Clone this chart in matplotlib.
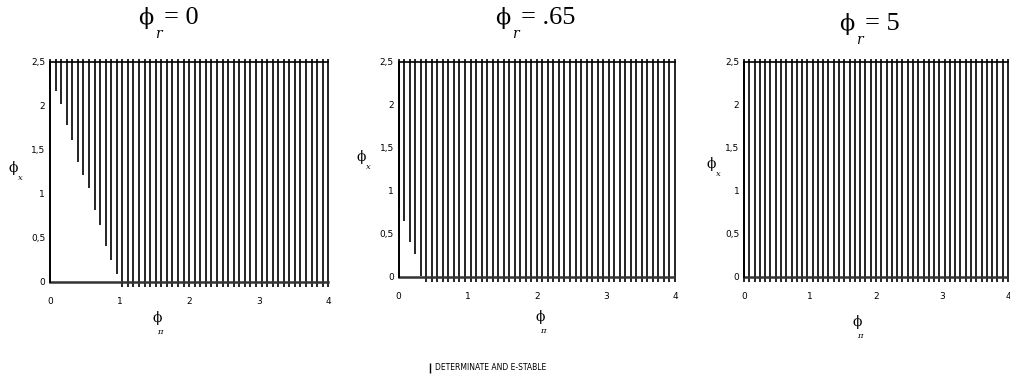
import matplotlib
matplotlib.use("Agg")
import matplotlib.pyplot as plt
from matplotlib.lines import Line2D

# grid of phi_pi values where the determinacy check was run
phi_pi = [0.00, 0.08, 0.16, 0.24, 0.32, 0.40, 0.48, 0.56, 0.64, 0.72,
          0.80, 0.88, 0.96, 1.04, 1.12, 1.20, 1.28, 1.36, 1.44, 1.52,
          1.60, 1.68, 1.76, 1.84, 1.92, 2.00, 2.08, 2.16, 2.24, 2.32,
          2.40, 2.48, 2.56, 2.64, 2.72, 2.80, 2.88, 2.96, 3.04, 3.12,
          3.20, 3.28, 3.36, 3.44, 3.52, 3.60, 3.68, 3.76, 3.84, 3.92, 4.00]

# lowest phi_x that is determinate and E-stable
low_r0 = [2.35, 2.17, 2.02, 1.78, 1.61, 1.36, 1.21, 1.06, 0.81, 0.64,
          0.41, 0.25, 0.09]
low_r065 = [0.81, 0.65, 0.40, 0.26, 0.01]
low_r5 = []
floor = -0.06
top = 2.53

titles = ["0", ".65", "5"]
lows = [low_r0, low_r065, low_r5]
yticks = [0, 0.5, 1, 1.5, 2, 2.5]
ytick_labels = ["0", "0,5", "1", "1,5", "2", "2,5"]
xticks = [0, 1, 2, 3, 4]

W, H = 1010, 381
fig = plt.figure(figsize=(W / 100, H / 100), dpi=100)

# axes boxes in pixels: left, right, top, bottom
boxes = [(48.6, 329.7, 57.3, 288.7),
         (397.3, 676.4, 57.7, 283.6),
         (742.7, 1009.3, 57.7, 283.6)]
title_pos = [(146, 18), (503, 18), (847, 24)]
ylab_pos = [(13, 168), (361, 157), (711, 164)]
xlab_pos = [(157, 318), (540, 317), (857, 322)]

serif = ["DejaVu Serif"]

for i in range(3):
    l, r, t, b = boxes[i]
    ax = fig.add_axes([l / W, 1 - b / H, (r - l) / W, (b - t) / H])
    lo = lows[i] + [floor] * (len(phi_pi) - len(lows[i]))
    ax.vlines(phi_pi, lo, top, color="black", lw=1.2)
    ax.plot([0, 4], [2.5, 2.5], color="black", lw=1.2)
    ax.plot([0, 4], [0, 0], color="#333333", lw=1.8)
    ax.plot([0, 0], [0, 2.5], color="black", lw=1.4)
    ax.set_xlim(-0.02, 4.02)
    ax.set_ylim(-0.08, 2.55)
    for s in ax.spines.values():
        s.set_visible(False)
    ax.set_yticks(yticks)
    ax.set_yticklabels(ytick_labels)
    ax.set_xticks(xticks)
    ax.tick_params(length=0, labelsize=6.5, pad=2.5)
    ax.tick_params(axis="x", pad=6)

    tx, ty = title_pos[i]
    fig.text(tx / W, 1 - ty / H, "\u03d5", fontsize=16, family=serif,
             ha="center", va="center")
    fig.text((tx + 12) / W, 1 - (ty + 16) / H, "r", fontsize=10,
             family=serif, style="italic", ha="center", va="center")
    fig.text((tx + 18) / W, 1 - ty / H, "= " + titles[i], fontsize=19,
             family=["Liberation Serif"], ha="left", va="center")

    yx, yy = ylab_pos[i]
    fig.text(yx / W, 1 - yy / H, "\u03d5", fontsize=10, family=serif,
             ha="center", va="center")
    fig.text((yx + 7) / W, 1 - (yy + 10) / H, "x", fontsize=6,
             family=serif, style="italic", ha="center", va="center")

    xx, xy = xlab_pos[i]
    fig.text(xx / W, 1 - xy / H, "\u03d5", fontsize=10, family=serif,
             ha="center", va="center")
    fig.text((xx + 3) / W, 1 - (xy + 14) / H, "\u03c0", fontsize=6,
             family=serif, style="italic", ha="center", va="center")

handle = Line2D([], [], color="black", marker="|", linestyle="None",
                markersize=7, markeredgewidth=1.0)
fig.legend([handle], ["DETERMINATE AND E-STABLE"], loc="center",
           bbox_to_anchor=(487 / W, 1 - 368 / H), frameon=False,
           fontsize=5.5, handlelength=0.6, handletextpad=0.4)

fig.savefig("out.png", dpi=100)
